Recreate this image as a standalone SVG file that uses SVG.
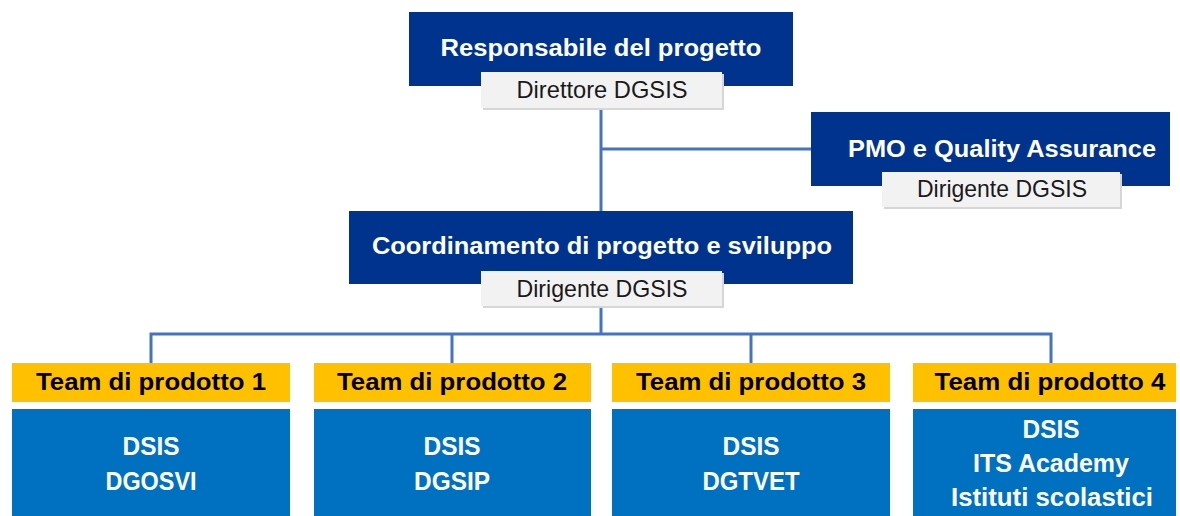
<svg xmlns="http://www.w3.org/2000/svg" width="1180" height="516" viewBox="0 0 1180 516">
<style>
.navy{fill:#00338d}
.sub{fill:#f2f2f2}
.shadow{fill:#d6d6d6}
.yel{fill:#ffc000}
.blue{fill:#0070c0}
.t{font-family:"Liberation Sans",Arial,sans-serif;text-anchor:middle}
.tw{fill:#ffffff;font-weight:bold;font-size:23px}
.ts{fill:#1a1a1a;font-size:24px}
.ty{fill:#000000;font-weight:bold;font-size:24px}
.tb{fill:#ffffff;font-weight:bold;font-size:25px}
.ln{stroke:#4472c4;stroke-width:3;fill:none}
</style>
<rect width="1180" height="516" fill="#ffffff"/>
<g id="connectors">
<path class="ln" d="M601 108 V211"/>
<path class="ln" d="M601 149 H811"/>
<path class="ln" d="M601 306 V334"/>
<path class="ln" d="M151 363 V334 H1051 V363"/>
<path class="ln" d="M452 334 V363"/>
<path class="ln" d="M751 334 V363"/>
</g>
<g id="responsabile">
<rect class="navy" x="409" y="12" width="384" height="74"/>
<text class="t tw" x="601" y="56" textLength="321" lengthAdjust="spacingAndGlyphs">Responsabile del progetto</text>
<rect class="shadow" x="483" y="74" width="241" height="36"/>
<rect class="sub" x="481" y="72" width="241" height="36"/>
<text class="t ts" x="602" y="98" textLength="171" lengthAdjust="spacingAndGlyphs">Direttore DGSIS</text>
</g>
<g id="pmo">
<rect class="navy" x="811" y="112" width="359" height="74"/>
<text class="t tw" x="1002" y="157" textLength="308" lengthAdjust="spacingAndGlyphs">PMO e Quality Assurance</text>
<rect class="shadow" x="884" y="174" width="238" height="35"/>
<rect class="sub" x="882" y="172" width="238" height="35"/>
<text class="t ts" x="1002" y="197" textLength="170" lengthAdjust="spacingAndGlyphs">Dirigente DGSIS</text>
</g>
<g id="coordinamento">
<rect class="navy" x="349" y="211" width="504" height="73"/>
<text class="t tw" x="602" y="254" textLength="460" lengthAdjust="spacingAndGlyphs">Coordinamento di progetto e sviluppo</text>
<rect class="shadow" x="483" y="273" width="241" height="35"/>
<rect class="sub" x="481" y="271" width="241" height="35"/>
<text class="t ts" x="602" y="297" textLength="171" lengthAdjust="spacingAndGlyphs">Dirigente DGSIS</text>
</g>
<g id="team1">
<rect class="yel" x="12" y="363" width="278" height="39"/>
<text class="t ty" x="151" y="390" textLength="230" lengthAdjust="spacingAndGlyphs">Team di prodotto 1</text>
<rect class="blue" x="12" y="409" width="278" height="110"/>
<text class="t tb" x="151" y="455" textLength="57" lengthAdjust="spacingAndGlyphs">DSIS</text>
<text class="t tb" x="151" y="490" textLength="91" lengthAdjust="spacingAndGlyphs">DGOSVI</text>
</g>
<g id="team2">
<rect class="yel" x="314" y="363" width="277" height="39"/>
<text class="t ty" x="452" y="390" textLength="230" lengthAdjust="spacingAndGlyphs">Team di prodotto 2</text>
<rect class="blue" x="314" y="409" width="277" height="110"/>
<text class="t tb" x="452" y="455" textLength="57" lengthAdjust="spacingAndGlyphs">DSIS</text>
<text class="t tb" x="452" y="490" textLength="76" lengthAdjust="spacingAndGlyphs">DGSIP</text>
</g>
<g id="team3">
<rect class="yel" x="612" y="363" width="278" height="39"/>
<text class="t ty" x="751" y="390" textLength="230" lengthAdjust="spacingAndGlyphs">Team di prodotto 3</text>
<rect class="blue" x="612" y="409" width="278" height="110"/>
<text class="t tb" x="751" y="455" textLength="57" lengthAdjust="spacingAndGlyphs">DSIS</text>
<text class="t tb" x="751" y="490" textLength="97" lengthAdjust="spacingAndGlyphs">DGTVET</text>
</g>
<g id="team4">
<rect class="yel" x="913" y="363" width="263" height="39"/>
<text class="t ty" x="1050" y="390" textLength="231" lengthAdjust="spacingAndGlyphs">Team di prodotto 4</text>
<rect class="blue" x="913" y="409" width="263" height="110"/>
<text class="t tb" x="1051" y="438" textLength="57" lengthAdjust="spacingAndGlyphs">DSIS</text>
<text class="t tb" x="1051" y="472" textLength="156" lengthAdjust="spacingAndGlyphs">ITS Academy</text>
<text class="t tb" x="1052" y="506" textLength="202" lengthAdjust="spacingAndGlyphs">Istituti scolastici</text>
</g>
</svg>
